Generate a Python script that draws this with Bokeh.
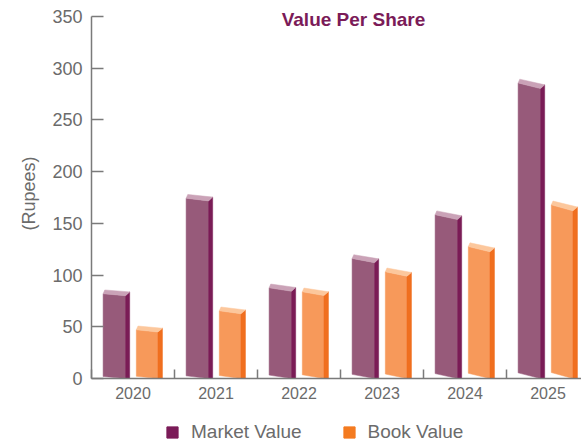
from bokeh.plotting import figure
from bokeh.layouts import column
from bokeh.models import Range1d, FixedTicker, Legend, LegendItem, Label
from bokeh.embed import file_html
from bokeh.resources import INLINE

# ---- data ----
years = ["2020", "2021", "2022", "2023", "2024", "2025"]
market_value = [81, 173, 86, 114, 156, 283]
book_value = [46, 64, 82, 101, 125, 165]
y_ticks = [0, 50, 100, 150, 200, 250, 300, 350]
series_names = ["Market Value", "Book Value"]
title_text = "Value Per Share"
y_label = "(Rupees)"

# ---- styles ----
W = 581
H_MAIN, H_LEG = 410, 36
BL, BT = 91, 8
FRAME_H = 370
Y_AXIS_MAX = 350
K = Y_AXIS_MAX / 362.0  # data units per pixel (y)
Y_END = FRAME_H * K

TEXT = "#6b6b6b"
AXIS = "#7a7a7a"
FONT = "Liberation Sans"

market_cols = ("#975a7a", "#7a1c56", "#caa2b7")
book_cols = ("#f7995a", "#f06f1f", "#fcc79c")
legend_cols = ("#7b1b58", "#f47b20")

p = figure(width=W, height=H_MAIN, output_backend="svg", toolbar_location=None,
           x_range=Range1d(-0.5, (W - BL) / 83.0 - 0.5), y_range=Range1d(0, Y_END),
           min_border_left=BL, min_border_top=BT, min_border_right=0,
           min_border_bottom=H_MAIN - BT - FRAME_H)
p.outline_line_color = None
p.xgrid.visible = False
p.ygrid.visible = False
p.background_fill_color = "white"


def bar_shapes(values, off_l, off_f, off_s):
    fronts_x, fronts_y, sides_x, sides_y, tops_x, tops_y = [], [], [], [], [], []
    for i, v in enumerate(values):
        xl, xf, xs = i + off_l, i + off_f, i + off_s
        d = (1.8 + 0.75 * (xl + 0.5)) * K
        b = 3.8 * K
        ltop, rtop = v + d / 2, v - d / 2
        fronts_x.append([xl, xl, xf, xf])
        fronts_y.append([d, ltop, rtop, 0])
        sides_x.append([xf, xf, xs, xs])
        sides_y.append([0, rtop, rtop + b, 0.6 * K])
        tops_x.append([xl, xl + 0.02, xs, xf])
        tops_y.append([ltop, ltop + b, rtop + b, rtop])
    return (fronts_x, fronts_y), (sides_x, sides_y), (tops_x, tops_y)


for vals, offs, cols in ((market_value, (-0.36, -0.09, -0.04), market_cols),
                         (book_value, (0.04, 0.30, 0.355), book_cols)):
    shapes = bar_shapes(vals, *offs)
    for (xs, ys), c in zip(shapes, cols):
        p.patches(xs, ys, fill_color=c, line_color=c, line_width=0.5)

# y axis
ya = p.yaxis[0]
ya.ticker = FixedTicker(ticks=y_ticks)
ya.bounds = (0, Y_AXIS_MAX)
ya.major_tick_in = 12
ya.major_tick_out = 0
ya.minor_tick_line_color = None
ya.axis_line_color = AXIS
ya.axis_line_width = 1.5
ya.major_tick_line_color = AXIS
ya.major_tick_line_width = 1.5
ya.major_label_text_font = FONT
ya.major_label_text_font_size = "18px"
ya.major_label_text_color = TEXT
ya.major_label_standoff = 9
ya.axis_label = y_label
ya.axis_label_text_font = FONT
ya.axis_label_text_font_size = "18px"
ya.axis_label_text_font_style = "normal"
ya.axis_label_text_color = TEXT
ya.axis_label_standoff = 10

# x axis
xa = p.xaxis[0]
xa.ticker = FixedTicker(ticks=list(range(len(years))),
                        minor_ticks=[i - 0.5 for i in range(len(years) + 1)])
xa.major_label_overrides = {i: y for i, y in enumerate(years)}
xa.major_tick_in = 0
xa.major_tick_out = 0
xa.minor_tick_in = 9
xa.minor_tick_out = 0
xa.minor_tick_line_color = AXIS
xa.minor_tick_line_width = 1.5
xa.axis_line_color = AXIS
xa.axis_line_width = 1.5
xa.major_label_text_font = FONT
xa.major_label_text_font_size = "16px"
xa.major_label_text_color = TEXT
xa.major_label_standoff = 8

# title
p.add_layout(Label(x=(353 - BL) / 83.0 - 0.5, y=Y_AXIS_MAX - 3 * K, text=title_text,
                   text_align="center", text_baseline="middle", text_font=FONT,
                   text_font_size="19px", text_font_style="bold", text_color="#7b1b58"))

# ---- legend strip (separate figure below, frame aligned with main frame) ----
lg = figure(width=W, height=H_LEG, output_backend="svg", toolbar_location=None,
            x_range=Range1d(0, 1), y_range=Range1d(0, 1),
            x_axis_type=None, y_axis_type=None,
            min_border_left=0, min_border_right=0, min_border_top=0, min_border_bottom=0)
lg.outline_line_color = None
lg.xgrid.visible = False
lg.ygrid.visible = False

# legend handles: off-range quads, only their legend swatches are seen
leg_r = []
for c in legend_cols:
    r = lg.quad(left=[-3], right=[-2], top=[-2], bottom=[-3], fill_color=c, line_color=c)
    leg_r.append(r)

legend = Legend(items=[LegendItem(label=n, renderers=[r]) for n, r in zip(series_names, leg_r)],
                orientation="horizontal", location=(74, 3),
                glyph_width=14, glyph_height=14, label_standoff=12, spacing=40,
                padding=0, margin=0, border_line_color=None, background_fill_alpha=0,
                label_text_font=FONT, label_text_font_size="19px", label_text_color=TEXT)
lg.add_layout(legend)

layout = column(p, lg, spacing=0)
open("out.html", "w").write(file_html(layout, INLINE))
